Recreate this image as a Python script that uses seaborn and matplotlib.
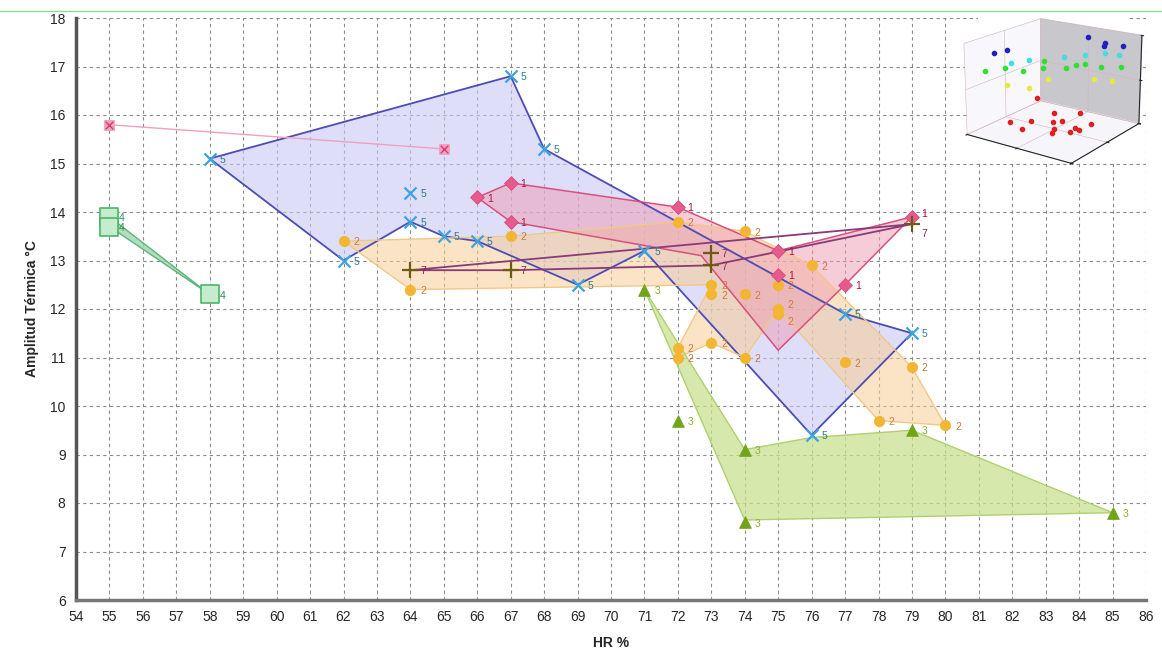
import numpy as np
import pandas as pd
import matplotlib
matplotlib.use("Agg")
import matplotlib.pyplot as plt
import seaborn as sns
from matplotlib.lines import Line2D

sns.set_style("white")
plt.rcParams['font.family'] = ['Liberation Sans', 'DejaVu Sans']

# ---------------- data ----------------
# group 1 (pink diamonds)
g1_x = [66, 67, 67, 72, 75, 75, 77, 79]
g1_y = [14.3, 14.6, 13.8, 14.1, 13.2, 12.7, 12.5, 13.9]
g1_poly_x = [66, 67, 72, 75, 79, 77, 75, 72.7, 67]
g1_poly_y = [14.3, 14.6, 14.1, 13.2, 13.9, 12.5, 11.15, 13.1, 13.8]

# group 2 (orange circles)
g2_x = [62, 64, 67, 72, 74, 73, 73, 74, 75, 75, 75, 76, 72, 72, 73, 74, 77, 79, 78, 80]
g2_y = [13.4, 12.4, 13.5, 13.8, 13.6, 12.5, 12.3, 12.3, 12.5, 12.0, 11.9, 12.9,
        11.2, 11.0, 11.3, 11.0, 10.9, 10.8, 9.7, 9.6]
g2_poly_x = [62, 67, 72, 74, 76, 79, 80, 78, 75, 74, 73, 72, 72, 73, 64]
g2_poly_y = [13.4, 13.5, 13.8, 13.6, 12.9, 10.8, 9.6, 9.7, 12.0, 11.0, 11.3, 11.0, 11.2, 12.5, 12.4]

# group 3 (green triangles)
g3_x = [71, 72, 74, 74, 79, 85]
g3_y = [12.4, 9.7, 9.1, 7.6, 9.5, 7.8]
g3_poly_x = [71, 74, 76, 79, 85, 74]
g3_poly_y = [12.4, 9.1, 9.35, 9.5, 7.8, 7.65]

# group 4 (green squares)
g4_x = [55, 55, 58]
g4_y = [13.9, 13.7, 12.3]

# group 5 (blue crosses)
g5_x = [58, 67, 68, 64, 64, 62, 65, 66, 69, 71, 77, 79, 76]
g5_y = [15.1, 16.8, 15.3, 14.4, 13.8, 13.0, 13.5, 13.4, 12.5, 13.2, 11.9, 11.5, 9.4]
g5_poly_x = [58, 67, 68, 77, 79, 76, 71, 69, 66, 65, 64, 62]
g5_poly_y = [15.1, 16.8, 15.3, 11.9, 11.5, 9.4, 13.2, 12.5, 13.4, 13.5, 13.8, 13.0]

# group 6 (pink boxed crosses, line only)
g6_x = [55, 65]
g6_y = [15.8, 15.3]

# group 7 (dark plus markers)
g7_x = [64, 67, 73, 73, 79]
g7_y = [12.8, 12.8, 13.15, 12.9, 13.75]
g7_line_x = [64, 67, 73, 79, 64]
g7_line_y = [12.8, 12.8, 12.9, 13.75, 12.8]

x_ticks = list(range(54, 87))
y_ticks = list(range(6, 19))

# inset (3D scatter thumbnail)
ins_blue = ([20, 28, 62, 74, 82, 88], [12, 18, 80, 86, 72, 92], [90, 94, 96, 90, 93, 88])
ins_cyan = ([30, 40, 52, 66, 78, 86], [20, 30, 60, 70, 80, 88], [80, 82, 78, 80, 82, 79])
ins_green = ([12, 22, 34, 46, 58, 70, 80, 90, 40, 64], [10, 22, 30, 40, 55, 64, 72, 86, 50, 60],
             [70, 72, 68, 71, 69, 73, 70, 67, 74, 72])
ins_yellow = ([26, 38, 48, 72, 84], [20, 32, 44, 74, 82], [55, 50, 58, 54, 52])
ins_red = ([20, 30, 40, 50, 60, 70, 80, 35, 55, 65, 45, 75, 25, 85],
           [30, 45, 20, 60, 35, 50, 40, 70, 80, 25, 55, 65, 60, 20],
           [8, 6, 10, 5, 9, 7, 12, 6, 8, 10, 5, 7, 25, 20])

# ---------------- figure ----------------
fig = plt.figure(figsize=(11.62, 6.6), dpi=100)
ax = fig.add_axes([76 / 1162, 60 / 660, 1070 / 1162, 582 / 660])

# polygons
ax.fill(g5_poly_x, g5_poly_y, facecolor='#c8c8f6', alpha=0.6, edgecolor='none', zorder=1)
ax.fill(g2_poly_x, g2_poly_y, facecolor='#f7cf96', alpha=0.55, edgecolor='none', zorder=1.1)
ax.fill(g1_poly_x, g1_poly_y, facecolor='#ee9ab4', alpha=0.5, edgecolor='none', zorder=1.2)
ax.fill(g3_poly_x, g3_poly_y, facecolor='#c9e190', alpha=0.75, edgecolor='none', zorder=1)
ax.fill(g4_x, g4_y, facecolor='#9fd6b0', alpha=0.8, edgecolor='none', zorder=1)

ax.fill(g5_poly_x, g5_poly_y, facecolor='none', edgecolor='#4c4cb4', lw=1.3, zorder=2)
ax.fill(g2_poly_x, g2_poly_y, facecolor='none', edgecolor='#f2c88a', lw=1.0, zorder=2)
ax.fill(g1_poly_x, g1_poly_y, facecolor='none', edgecolor='#d8507c', lw=1.1, zorder=2.1)
ax.fill(g3_poly_x, g3_poly_y, facecolor='none', edgecolor='#b0d070', lw=1.0, zorder=2)
ax.fill(g4_x, g4_y, facecolor='none', edgecolor='#5fb47a', lw=1.0, zorder=2)
sns.lineplot(x=g6_x, y=g6_y, ax=ax, color='#f0a0c0', lw=1.0, sort=False, zorder=2)
ax.plot(g7_line_x, g7_line_y, color='#8a3a78', lw=1.3, zorder=2.2)

# markers
sns.scatterplot(x=g5_x, y=g5_y, ax=ax, marker='x', s=75, color='#3ea2e2', linewidth=1.6, zorder=4)
sns.scatterplot(x=g2_x, y=g2_y, ax=ax, marker='o', s=55, color='#f2b632', edgecolor='#f2b632', zorder=4)
sns.scatterplot(x=g1_x, y=g1_y, ax=ax, marker='D', s=50, color='#e65a8c', edgecolor='#d84a7c', zorder=4.2)
sns.scatterplot(x=g3_x, y=g3_y, ax=ax, marker='^', s=70, color='#72a41a', edgecolor='#72a41a', zorder=4)
sns.scatterplot(x=g4_x, y=g4_y, ax=ax, marker='s', s=150, facecolor='#c6ecce', edgecolor='#4cb46a', linewidth=1.2, zorder=4)
sns.scatterplot(x=g6_x, y=g6_y, ax=ax, marker='s', s=60, color='#f4a0bc', edgecolor='#f4a0bc', zorder=4)
sns.scatterplot(x=g6_x, y=g6_y, ax=ax, marker='x', s=30, color='#d04070', linewidth=1.0, zorder=4.1)
sns.scatterplot(x=g7_x, y=g7_y, ax=ax, marker='+', s=130, color='#6e5a12', linewidth=1.6, zorder=4.3)

# point labels
def label(xs, ys, txt, color, special=None):
    special = special or {}
    for i, (xv, yv) in enumerate(zip(xs, ys)):
        off = special.get(i, (7, -3))
        ax.annotate(txt, (xv, yv), xytext=off, textcoords='offset points',
                    fontsize=7.5, color=color, zorder=5)

label(g5_x, g5_y, '5', '#2e7a8a')
label(g2_x, g2_y, '2', '#d07a40', special={10: (7, -8), 9: (7, 1)})
label(g1_x, g1_y, '1', '#a8183c', special={7: (7, 0)})
label(g3_x, g3_y, '3', '#8ab030')
label(g4_x, g4_y, '4', '#2e8a50')
label(g7_x, g7_y, '7', '#8a2a40', special={4: (7, -9)})

# axes styling
ax.set_xlim(54, 86)
ax.set_ylim(6, 18)
ax.set_xticks(x_ticks)
ax.set_yticks(y_ticks)
ax.tick_params(axis='both', labelsize=10, length=4, width=1, color='#333', direction='out')
ax.grid(True, linestyle=(0, (3, 3)), color='#8a8a8a', linewidth=0.8)
ax.set_axisbelow(True)
for s in ['top', 'right']:
    ax.spines[s].set_visible(False)
ax.spines['left'].set_color('#555555')
ax.spines['left'].set_linewidth(2.5)
ax.spines['bottom'].set_color('#777777')
ax.spines['bottom'].set_linewidth(2.5)
ax.set_xlabel('HR %', fontsize=10, fontweight='bold', labelpad=8)
ax.set_ylabel('Amplitud Térmica °C', fontsize=10, fontweight='bold', labelpad=8)

# top border line
fig.add_artist(Line2D([0, 1], [1 - 11 / 660, 1 - 11 / 660], color='#8fdc8f', lw=1.0))

# inset thumbnail
ins = fig.add_axes([950 / 1162, 1 - 162 / 660, 205 / 1162, 150 / 660], projection='3d')
ins.set_facecolor('white')
ins.xaxis.set_pane_color((0.97, 0.97, 0.99, 1.0))
ins.yaxis.set_pane_color((0.78, 0.78, 0.80, 1.0))
ins.zaxis.set_pane_color((0.96, 0.96, 0.98, 1.0))
for pts, c in [(ins_red, '#e02020'), (ins_yellow, '#e8e840'), (ins_green, '#30e030'),
               (ins_cyan, '#40e0e0'), (ins_blue, '#2020c0')]:
    ins.scatter(pts[0], pts[1], pts[2], color=c, s=9, depthshade=False)
ins.set_xlim(0, 100); ins.set_ylim(0, 100); ins.set_zlim(0, 100)
ins.set_xticklabels([]); ins.set_yticklabels([]); ins.set_zticklabels([])
ins.tick_params(length=0)
ins.view_init(elev=18, azim=-55)
ins.set_box_aspect(None, zoom=1.3)
for a in (ins.xaxis, ins.yaxis, ins.zaxis):
    a._axinfo['grid']['color'] = (0.85, 0.7, 0.75, 1)
    a._axinfo['grid']['linewidth'] = 0.4

fig.savefig('out.png', dpi=100)
